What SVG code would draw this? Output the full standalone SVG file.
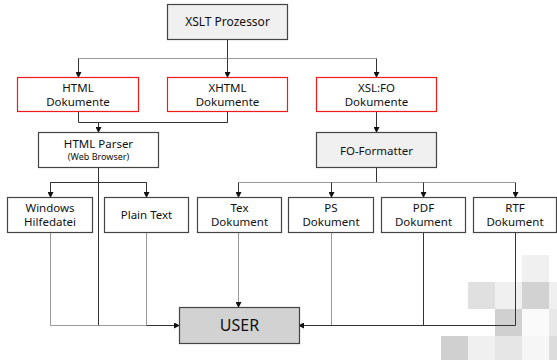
<svg xmlns="http://www.w3.org/2000/svg" width="557" height="360" viewBox="0 0 557 360">
<defs>
<marker id="ah" markerWidth="6" markerHeight="6" refX="5" refY="3" orient="auto" markerUnits="userSpaceOnUse">
<path d="M0,0 L6,3 L0,6 Z" fill="#111"/>
</marker>
</defs>
<style>
.box{fill:#fff;stroke:#444;stroke-width:1.2}
.red{fill:#fff;stroke:#f01a1a;stroke-width:1.2}
.grey{fill:#f0f0f0;stroke:#444;stroke-width:1.2}
.user{fill:#d2d2d2;stroke:#444;stroke-width:1.2}
text{font-family:"Noto Sans","DejaVu Sans",sans-serif;font-size:11.5px;fill:#111;text-anchor:middle}
.sm{font-size:9px}
.big{font-size:16px}
.c{fill:none;stroke:#333;stroke-width:1}
.cg{fill:none;stroke:#999;stroke-width:1}
</style>
<g id="background">
<rect x="522" y="255" width="27" height="27" fill="#f0f0f0"/>
<rect x="468" y="282" width="27" height="27" fill="#e0e0e0"/>
<rect x="495" y="282" width="27" height="27" fill="#f0f0f0"/>
<rect x="522" y="282" width="27" height="27" fill="#d2d2d2"/>
<rect x="549" y="282" width="8" height="27" fill="#f0f0f0"/>
<rect x="495" y="309" width="27" height="27" fill="#d0d0d0"/>
<rect x="522" y="309" width="27" height="27" fill="#fafafa"/>
<rect x="549" y="309" width="8" height="27" fill="#e8e8e8"/>
<rect x="441" y="336" width="27" height="24" fill="#d0d0d0"/>
<rect x="468" y="336" width="27" height="24" fill="#f0f0f0"/>
<rect x="495" y="336" width="27" height="24" fill="#e6e6e6"/>
<rect x="522" y="336" width="27" height="24" fill="#f6f6f6"/>
<rect x="549" y="336" width="8" height="24" fill="#dcdcdc"/>
</g>
<g id="connectors">
<path class="c" d="M227.5,39 V58.5"/>
<path class="cg" d="M78.5,58.5 H376.5"/>
<path class="c" d="M78.5,58.5 V77" marker-end="url(#ah)"/>
<path class="c" d="M227.5,58.5 V77" marker-end="url(#ah)"/>
<path class="c" d="M376.5,58.5 V77" marker-end="url(#ah)"/>
<path class="c" d="M78.5,111 V122.5 H227.5 V111"/>
<path class="c" d="M98.5,122.5 V132" marker-end="url(#ah)"/>
<path class="c" d="M376.5,111 V132" marker-end="url(#ah)"/>
<path class="c" d="M98.5,168 V325.5"/>
<path class="c" d="M50.5,196 V182.5 H146.5 V196"/>
<path class="c" d="M50.5,182.5 V197" marker-end="url(#ah)"/>
<path class="c" d="M146.5,182.5 V197" marker-end="url(#ah)"/>
<path class="c" d="M376.5,168 V182.5"/>
<path class="cg" d="M238.5,182.5 H515.5"/>
<path class="c" d="M238.5,182.5 V197" marker-end="url(#ah)"/>
<path class="c" d="M331.5,182.5 V197" marker-end="url(#ah)"/>
<path class="c" d="M423.5,182.5 V197" marker-end="url(#ah)"/>
<path class="c" d="M515.5,182.5 V197" marker-end="url(#ah)"/>
<path class="cg" d="M238.5,232 V307" marker-end="url(#ah)"/>
<path class="cg" d="M50.5,232 V325.5 H146.5"/>
<path class="cg" d="M146.5,232 V325.5"/>
<path class="c" d="M146.5,325.5 H179" marker-end="url(#ah)"/>
<path class="cg" d="M331.5,232 V325.5"/>
<path class="c" d="M423.5,232 V325.5"/>
<path class="c" d="M515.5,232 V325.5 H299" marker-end="url(#ah)"/>
</g>
<g id="xslt"><rect class="grey" x="167.5" y="4.5" width="120" height="35"/><text x="227.5" y="26" style="font-size:12px">XSLT Prozessor</text></g>
<g id="html"><rect class="red" x="17.5" y="77.5" width="121" height="34"/><text x="78" y="92">HTML</text><text x="78" y="106">Dokumente</text></g>
<g id="xhtml"><rect class="red" x="167.5" y="77.5" width="120" height="34"/><text x="227.5" y="92">XHTML</text><text x="227.5" y="106">Dokumente</text></g>
<g id="xslfo"><rect class="red" x="316.5" y="77.5" width="120" height="34"/><text x="376.5" y="92">XSL:FO</text><text x="376.5" y="106">Dokumente</text></g>
<g id="htmlparser"><rect class="box" x="38.5" y="132.5" width="120" height="35"/><text x="98.5" y="148">HTML Parser</text><text class="sm" x="98.5" y="160">(Web Browser)</text></g>
<g id="foformatter"><rect class="grey" x="316.5" y="132.5" width="120" height="35"/><text x="376.5" y="155">FO-Formatter</text></g>
<g id="windows"><rect class="box" x="7.5" y="197.5" width="85" height="35"/><text x="50" y="212">Windows</text><text x="50" y="226">Hilfedatei</text></g>
<g id="plain"><rect class="box" x="104.5" y="197.5" width="84" height="35"/><text x="146.5" y="219">Plain Text</text></g>
<g id="tex"><rect class="box" x="197.5" y="197.5" width="84" height="35"/><text x="239.5" y="212">Tex</text><text x="239.5" y="226">Dokument</text></g>
<g id="ps"><rect class="box" x="288.5" y="197.5" width="85" height="35"/><text x="331" y="212">PS</text><text x="331" y="226">Dokument</text></g>
<g id="pdf"><rect class="box" x="381.5" y="197.5" width="84" height="35"/><text x="423.5" y="212">PDF</text><text x="423.5" y="226">Dokument</text></g>
<g id="rtf"><rect class="box" x="473.5" y="197.5" width="83" height="35"/><text x="515" y="212">RTF</text><text x="515" y="226">Dokument</text></g>
<g id="user"><rect class="user" x="179.5" y="307.5" width="120" height="36"/><text class="big" x="239.5" y="331">USER</text></g>
</svg>
